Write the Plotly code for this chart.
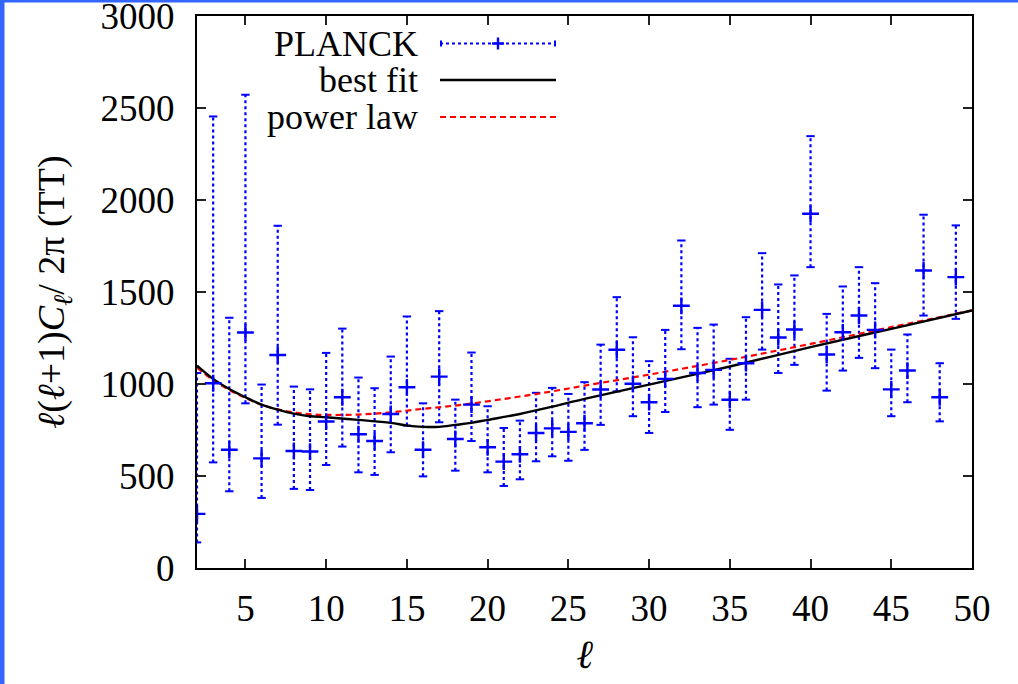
import plotly.graph_objects as go

# ---- data ----
ell = list(range(2, 50))
cl = [294, 1004, 643, 1280, 596, 1158, 636, 633, 796, 928, 727, 690, 837, 982, 643, 1040,
      701, 888, 656, 578, 618, 734, 759, 740, 787, 970, 1186, 1001, 901, 1028, 1425, 1060,
      1077, 914, 1113, 1403, 1253, 1296, 1925, 1160, 1281, 1372, 1294, 971, 1073, 1617, 928, 1581]
cl_upper = [1060, 2454, 1360, 2572, 997, 1860, 986, 971, 1169, 1301, 1035, 977, 1149, 1367, 895, 1396,
            915, 1171, 879, 761, 801, 952, 979, 946, 1010, 1214, 1472, 1254, 1124, 1294, 1780, 1305,
            1323, 1137, 1363, 1711, 1541, 1590, 2347, 1381, 1530, 1635, 1548, 1187, 1269, 1920, 1113, 1862]
cl_lower = [139, 574, 417, 895, 381, 779, 430, 424, 560, 660, 520, 506, 629, 774, 498, 792,
            529, 690, 520, 446, 482, 580, 607, 583, 642, 778, 960, 825, 734, 848, 1189, 874,
            888, 751, 915, 1187, 1060, 1104, 1635, 964, 1073, 1142, 1086, 825, 901, 1372, 797, 1354]

fit_ell = [2, 3, 4, 5, 6, 7, 8, 9, 10, 12, 14, 15, 16, 17, 18, 19, 20, 22, 24, 26, 30, 35, 40, 45, 50]
fit_cl = [1100, 1028, 973, 928, 888, 861, 839, 825, 819, 805, 789, 774, 767, 767, 778, 789, 805,
          837, 877, 919, 997, 1095, 1200, 1300, 1400]

pow_ell = [2, 3, 4, 5, 6, 7, 8, 9, 10, 12, 14, 16, 18, 20, 22, 24, 26, 30, 35, 40, 45, 50]
pow_cl = [1090, 1020, 968, 924, 888, 862, 846, 836, 832, 834, 846, 865, 883, 906, 932, 960, 991,
          1051, 1131, 1218, 1309, 1400]

x_ticks = [5, 10, 15, 20, 25, 30, 35, 40, 45, 50]
y_ticks = [0, 500, 1000, 1500, 2000, 2500, 3000]

BLUE = "#0000ff"
RED = "#ff0000"
FONT = "Liberation Serif, DejaVu Serif, serif"

# plot-area geometry in pixels (for decoration placement)
W, H = 1018, 684
L, R, T, B = 197, 972, 16, 568


def px(xp):
    return (xp - L) / (R - L)


def py(yp):
    return (B - yp) / (B - T)


# error bar segments
ex, ey = [], []
for l, lo, hi in zip(ell, cl_lower, cl_upper):
    ex += [l, l, None]
    ey += [lo, hi, None]

fig = go.Figure()

fig.add_trace(go.Scatter(x=ex, y=ey, mode="lines",
                         line=dict(color=BLUE, width=2.2, dash="dot"),
                         hoverinfo="skip", showlegend=False))
fig.add_trace(go.Scatter(x=ell + ell, y=cl_upper + cl_lower, mode="markers",
                         marker=dict(symbol="line-ew", size=6, line=dict(color=BLUE, width=2)),
                         hoverinfo="skip", showlegend=False))
fig.add_trace(go.Scatter(x=pow_ell, y=pow_cl, mode="lines", name="power law",
                         line=dict(color=RED, width=2.2, dash="6px,4px", shape="spline"),
                         showlegend=False))
fig.add_trace(go.Scatter(x=fit_ell, y=fit_cl, mode="lines", name="best fit",
                         line=dict(color="black", width=2.4, shape="spline"),
                         showlegend=False))
fig.add_trace(go.Scatter(x=ell, y=cl, mode="markers", name="PLANCK",
                         marker=dict(symbol="cross-thin", size=12, line=dict(color=BLUE, width=2.4)),
                         showlegend=False))

shapes = []
annotations = []

# blue frame strips (top and left)
shapes.append(dict(type="rect", xref="paper", yref="paper", x0=px(0), x1=px(W), y0=py(2.5), y1=py(-5),
                   fillcolor="#3366ff", line=dict(width=0), layer="above"))
shapes.append(dict(type="rect", xref="paper", yref="paper", x0=px(-5), x1=px(4.5), y0=py(H + 5), y1=py(-5),
                   fillcolor="#3366ff", line=dict(width=0), layer="above"))

# manual legend (text right-aligned, sample to the right)
leg_rows = [("PLANCK", 43.5), ("best fit", 80), ("power law", 117)]
for txt, yy in leg_rows:
    annotations.append(dict(text=txt, xref="paper", yref="paper", x=px(420), y=py(yy),
                            xanchor="right", yanchor="middle", showarrow=False,
                            font=dict(family=FONT, size=36, color="black")))
x0s, x1s = 440, 556
y_pl = 43.5
shapes.append(dict(type="line", xref="paper", yref="paper", x0=px(x0s), x1=px(x1s), y0=py(y_pl), y1=py(y_pl),
                   line=dict(color=BLUE, width=2.2, dash="dot")))
for xc in (x0s + 1, x1s - 1):
    shapes.append(dict(type="line", xref="paper", yref="paper", x0=px(xc), x1=px(xc),
                       y0=py(y_pl - 3), y1=py(y_pl + 3), line=dict(color=BLUE, width=2)))
xm = (x0s + x1s) / 2
shapes.append(dict(type="line", xref="paper", yref="paper", x0=px(xm - 6), x1=px(xm + 6),
                   y0=py(y_pl), y1=py(y_pl), line=dict(color=BLUE, width=2.4)))
shapes.append(dict(type="line", xref="paper", yref="paper", x0=px(xm), x1=px(xm),
                   y0=py(y_pl - 6), y1=py(y_pl + 6), line=dict(color=BLUE, width=2.4)))
shapes.append(dict(type="line", xref="paper", yref="paper", x0=px(x0s), x1=px(x1s), y0=py(80), y1=py(80),
                   line=dict(color="black", width=2.4)))
shapes.append(dict(type="line", xref="paper", yref="paper", x0=px(x0s), x1=px(x1s), y0=py(117), y1=py(117),
                   line=dict(color=RED, width=2.2, dash="6px,4px")))

axis_common = dict(showline=True, linecolor="black", linewidth=2.2, mirror="ticks",
                   ticks="inside", ticklen=9, tickwidth=1.8, tickcolor="#222222",
                   showgrid=False, zeroline=False, ticklabeloverflow="allow", automargin=False,
                   tickfont=dict(family=FONT, size=37, color="black"))

fig.update_layout(
    width=W, height=H,
    margin=dict(l=L, r=W - R, t=T, b=H - B, pad=0, autoexpand=False),
    paper_bgcolor="white", plot_bgcolor="white",
    shapes=shapes, annotations=annotations,
    xaxis=dict(range=[2, 50], tickvals=x_ticks, ticktext=[str(v) for v in x_ticks],
               title=dict(text="<i>ℓ</i>", font=dict(family=FONT, size=40, color="black"), standoff=12),
               ticklabelstandoff=6, **axis_common),
    yaxis=dict(range=[0, 3000], tickvals=y_ticks, ticktext=[str(v) for v in y_ticks],
               title=dict(text="<i>ℓ</i>(<i>ℓ</i>+1)<i>C</i><sub><i>ℓ</i></sub>/ 2π (TT)",
                          font=dict(family=FONT, size=38, color="black"), standoff=24),
               ticklabelstandoff=13, **axis_common),
    showlegend=False,
)

fig.write_html("out.html")
